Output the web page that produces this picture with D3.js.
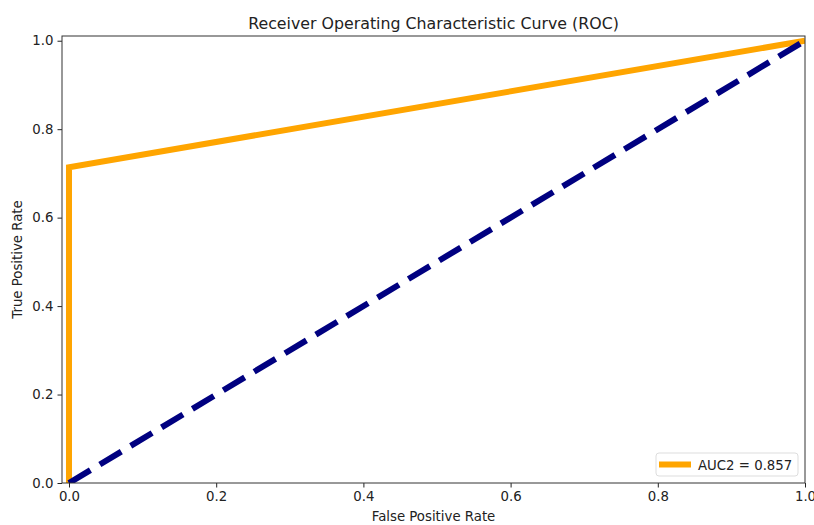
<!DOCTYPE html>
<html>
<head>
<meta charset="utf-8">
<script src="https://cdn.jsdelivr.net/npm/d3@7"></script>
<style>
  body { margin: 0; background: #fff; }
  text { font-family: "DejaVu Sans", sans-serif; fill: #222; }
</style>
</head>
<body>
<div id="roc"></div>
<script>
var width = 814;
var height = 525;

var padLeft = 62, padRight = 805, padTop = 36, padBottom = 483;

// ROC curve points
var fpr = [0, 0, 1];
var tpr = [0, 0.714, 1];
var chance = [0, 1];
var ticks = [0, 0.2, 0.4, 0.6, 0.8, 1.0];
var aucLabel = 'AUC2 = 0.857';

var svg = d3.select('#roc')
	.append('svg')
	.attr('width', width)
	.attr('height', height);

var x = d3.scaleLinear()
	.domain([-0.0095, 1.0])
	.range([padLeft, padRight]);

var y = d3.scaleLinear()
	.domain([0, 1.0107])
	.range([padBottom, padTop]);

var xAxis = d3.axisBottom(x).tickValues(ticks).tickFormat(d3.format('.1f')).tickSize(4.5).tickPadding(4);
var yAxis = d3.axisLeft(y).tickValues(ticks).tickFormat(d3.format('.1f')).tickSize(4.5).tickPadding(4);

var gx = svg.append('g')
	.attr('transform', 'translate(0,' + padBottom + ')')
	.call(xAxis);
var gy = svg.append('g')
	.attr('transform', 'translate(' + padLeft + ',0)')
	.call(yAxis);

[gx, gy].forEach(function (g) {
	g.select('.domain').remove();
	g.selectAll('text').style('font-size', '13.3px').attr('fill', '#222');
	g.selectAll('line').attr('stroke', '#222');
});

var line = d3.line()
	.x(function (d) { return x(d[0]); })
	.y(function (d) { return y(d[1]); });

svg.append('defs').append('clipPath').attr('id', 'clip')
	.append('rect')
	.attr('x', padLeft).attr('y', padTop)
	.attr('width', padRight - padLeft).attr('height', padBottom - padTop);

var plot = svg.append('g').attr('clip-path', 'url(#clip)');

plot.append('path')
	.datum(fpr.map(function (d, i) { return [d, tpr[i]]; }))
	.attr('d', line)
	.attr('fill', 'none')
	.attr('stroke', 'orange')
	.attr('stroke-width', 6);

plot.append('path')
	.datum(chance.map(function (d) { return [d, d]; }))
	.attr('d', line)
	.attr('fill', 'none')
	.attr('stroke', 'navy')
	.attr('stroke-width', 6)
	.attr('stroke-dasharray', '25,11');

// frame
svg.append('rect')
	.attr('x', padLeft).attr('y', padTop)
	.attr('width', padRight - padLeft).attr('height', padBottom - padTop)
	.attr('fill', 'none')
	.attr('stroke', '#333')
	.attr('stroke-width', 1);

svg.append('text')
	.attr('x', (padLeft + padRight) / 2)
	.attr('y', 29)
	.attr('text-anchor', 'middle')
	.style('font-size', '15.8px')
	.text('Receiver Operating Characteristic Curve (ROC)');

svg.append('text')
	.attr('x', (padLeft + padRight) / 2)
	.attr('y', 521)
	.attr('text-anchor', 'middle')
	.style('font-size', '13.3px')
	.text('False Positive Rate');

svg.append('text')
	.attr('transform', 'translate(22,' + ((padTop + padBottom) / 2) + ') rotate(-90)')
	.attr('text-anchor', 'middle')
	.style('font-size', '13.3px')
	.text('True Positive Rate');

// legend
var legend = svg.append('g');
legend.append('rect')
	.attr('x', 656).attr('y', 453)
	.attr('width', 142).attr('height', 23)
	.attr('rx', 3)
	.attr('fill', '#fff')
	.attr('fill-opacity', 0.8)
	.attr('stroke', '#ddd');
legend.append('line')
	.attr('x1', 659).attr('x2', 691)
	.attr('y1', 464.5).attr('y2', 464.5)
	.attr('stroke', 'orange')
	.attr('stroke-width', 6);
legend.append('text')
	.attr('x', 698)
	.attr('y', 469.5)
	.style('font-size', '13.3px')
	.text(aucLabel);
</script>
</body>
</html>
